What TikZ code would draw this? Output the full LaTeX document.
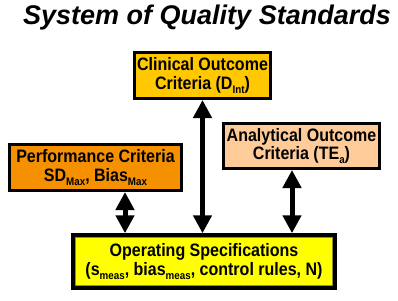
\documentclass[tikz,border=0pt]{standalone}
\usepackage{fontspec}
\setmainfont{Liberation Sans}
\newfontfamily\boxfont{Liberation Sans}[FakeStretch=0.89]
\usetikzlibrary{arrows.meta}
\definecolor{clinfill}{RGB}{255,200,0}
\definecolor{perffill}{RGB}{245,145,0}
\definecolor{analfill}{RGB}{255,204,153}
\definecolor{opsfill}{RGB}{255,255,0}
\definecolor{innerline}{RGB}{140,140,60}
\newcommand\lowtext[1]{\raisebox{-0.4ex}{\fontsize{11}{11}\selectfont #1}}
\tikzset{
  box/.style={draw=black, line width=3pt, align=center, inner sep=0pt,
    font=\boxfont\bfseries\fontsize{18}{18.5}\selectfont},
  biarrow/.style={line width=5pt, {Triangle[width=18pt,length=18pt]}-{Triangle[width=18pt,length=18pt]}},
}
\begin{document}
\begin{tikzpicture}[x=1pt,y=-1pt]
\useasboundingbox (0,0) rectangle (398,300);
\node[font=\bfseries\itshape\fontsize{27}{30}\selectfont] (title) at (207,18) {System of Quality Standards};
\node[box, fill=clinfill, minimum width=136pt, minimum height=46pt] (clin) at (202.5,75.5)
  {Clinical Outcome\\Criteria (D\lowtext{Int})};
\node[box, fill=analfill, minimum width=156pt, minimum height=45pt] (anal) at (301.5,146)
  {Analytical Outcome\\Criteria (TE\lowtext{a})};
\node[box, fill=perffill, minimum width=172pt, minimum height=46pt] (perf) at (95.5,167.5)
  {Performance Criteria\\SD\lowtext{Max}, Bias\lowtext{Max}};
\node[box, line width=3.5pt, fill=opsfill, minimum width=262pt, minimum height=53pt] (ops) at (204,261.5)
  {Operating Specifications\\(s\lowtext{meas}, bias\lowtext{meas}, control rules, N)};
\draw[innerline, line width=1pt] ([xshift=4.5pt,yshift=4.5pt]ops.south west) rectangle ([xshift=-4.5pt,yshift=-4.5pt]ops.north east);
\draw[biarrow] (clin.south) -- (clin.south |- ops.north);
\draw[biarrow] ([xshift=29.5pt]perf.south) -- ([xshift=29.5pt]perf.south |- ops.north);
\draw[biarrow] ([xshift=-9.5pt]anal.south) -- ([xshift=-9.5pt]anal.south |- ops.north);
\end{tikzpicture}
\end{document}
